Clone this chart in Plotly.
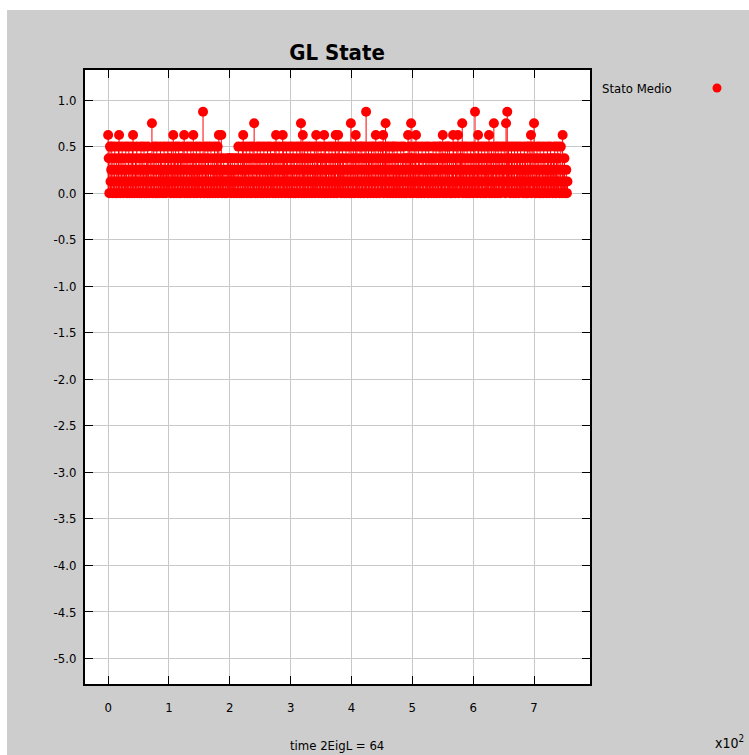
import plotly.graph_objects as go

# ---- data ----
# each digit k is a level k/8 of "Stato Medio", one sample per time step (0..755)
level_rows = [
    "5304124031" "2401302451" "0324103214" "2013402130" "4510231402",
    "1302403124" "0213042301" "3160241302" "4013204132" "0241302143",
    "2130412503" "1402314023" "0314250132" "4013204213" "5023140213",
    "2401327104" "3120431024" "1032140231" "4052135021" "3021203132",
    "1302312031" "2031420130" "2450312401" "3204130241" "6103240132",
    "4013204132" "0241302413" "2031405213" "0421302541" "3024130214",
    "0312403102" "4130241603" "5204130241" "3024103214" "0251340213",
    "4032150423" "1024130241" "3024510352" "4130241302" "1403214026",
    "0314203514" "2031402413" "0241730241" "3024130412" "5031420341",
    "2450316240" "3142031402" "4130241302" "1402314023" "0315240361",
    "3024135021" "4031204132" "0241320413" "2031420314" "0213402413",
    "5031420341" "2401302541" "0324150234" "1360241302" "4013204132",
    "0427130254" "1302413024" "2031425031" "4023610423" "0413204132",
    "2410637241" "3024130241" "0314203142" "1302413024" "0241350241",
    "6130241302" "4013204132" "0241302413" "2031420314" "1302410521",
    "301201",
]
levels = [int(c) for c in "".join(level_rows)]
time_steps = list(range(len(levels)))
stato_medio = [k / 8 for k in levels]

x_tick_vals = [0, 100, 200, 300, 400, 500, 600, 700]
x_tick_text = ["0", "1", "2", "3", "4", "5", "6", "7"]
y_tick_vals = [1.0, 0.5, 0.0, -0.5, -1.0, -1.5, -2.0, -2.5, -3.0, -3.5, -4.0, -4.5, -5.0]
y_tick_text = ["1.0", "0.5", "0.0", "-0.5", "-1.0", "-1.5", "-2.0", "-2.5",
               "-3.0", "-3.5", "-4.0", "-4.5", "-5.0"]

title_text = "GL State"
x_title = "time 2EigL = 64"
series_name = "Stato Medio"

# ---- figure ----
RED = "#ff0000"
GRAY = "#cdcdcd"
FONT = "DejaVu Sans Condensed, DejaVu Sans, sans-serif"

stem_x, stem_y = [], []
for t, v in zip(time_steps, stato_medio):
    stem_x += [t, t, None]
    stem_y += [0, v, None]

fig = go.Figure()
fig.add_trace(go.Scatter(x=stem_x, y=stem_y, mode="lines",
                         line=dict(color=RED, width=1), hoverinfo="skip",
                         showlegend=False))
fig.add_trace(go.Scatter(x=time_steps, y=stato_medio, mode="markers",
                         marker=dict(color=RED, size=10, line=dict(width=0)),
                         name=series_name, showlegend=False))

W, H = 749, 755
L, R, T, B = 85, 159, 70, 71
pw, ph = W - L - R, H - T - B


def px_x(p):
    return (p - L) / pw


def px_y(p):
    return (H - B - p) / ph


axis_common = dict(showline=True, linecolor="black", linewidth=2, mirror="ticks",
                   ticks="inside", ticklen=8, tickcolor="black", tickwidth=1,
                   showgrid=True, gridcolor="#c9c9c9", gridwidth=1,
                   zeroline=False, tickfont=dict(family=FONT, size=13, color="black"))

fig.update_layout(
    width=W, height=H,
    margin=dict(l=L, r=R, t=T, b=B, pad=0),
    paper_bgcolor=GRAY, plot_bgcolor="white",
    showlegend=False,
    title=dict(text="<b>" + title_text + "</b>", xref="container", x=337 / W,
               xanchor="center", yref="container", y=1 - 52 / H, yanchor="middle",
               font=dict(family=FONT, size=22, color="black")),
    xaxis=dict(range=[-38, 792], tickvals=x_tick_vals, ticktext=x_tick_text,
               ticklabelstandoff=10, **axis_common),
    yaxis=dict(range=[-5.274, 1.323], tickvals=y_tick_vals, ticktext=y_tick_text,
               ticklabelstandoff=4, **axis_common),
    shapes=[
        dict(type="rect", xref="paper", yref="paper", x0=px_x(0), x1=px_x(W),
             y0=px_y(10), y1=px_y(0), fillcolor="white", line=dict(width=0),
             layer="below"),
        dict(type="rect", xref="paper", yref="paper", x0=px_x(0), x1=px_x(7),
             y0=px_y(H), y1=px_y(0), fillcolor="white", line=dict(width=0),
             layer="below"),
        dict(type="circle", xref="paper", yref="paper", xsizemode="pixel",
             ysizemode="pixel", xanchor=px_x(717), yanchor=px_y(88),
             x0=-4.5, x1=4.5, y0=-4.5, y1=4.5, fillcolor=RED,
             line=dict(width=0)),
    ],
    annotations=[
        dict(text=series_name, xref="paper", yref="paper", x=px_x(600), y=px_y(88),
             xanchor="left", yanchor="middle", showarrow=False,
             font=dict(family=FONT, size=13, color="black")),
        dict(text=x_title, xref="paper", yref="paper", x=px_x(337), y=px_y(745),
             xanchor="center", yanchor="middle", showarrow=False,
             font=dict(family=FONT, size=13, color="black")),
        dict(text="x10<sup>2</sup>", xref="paper", yref="paper", x=px_x(746),
             y=px_y(742), xanchor="right", yanchor="middle", showarrow=False,
             font=dict(family=FONT, size=14, color="black")),
    ],
)

fig.write_html("out.html")
